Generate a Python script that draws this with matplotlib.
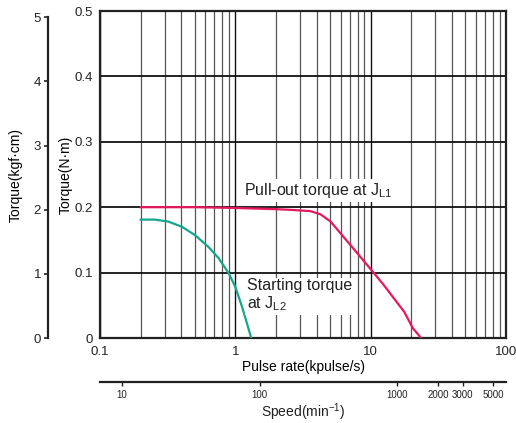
import matplotlib
matplotlib.use("Agg")
import matplotlib.pyplot as plt
from matplotlib.ticker import NullFormatter, LogLocator

plt.rcParams['font.family'] = ['Liberation Sans', 'DejaVu Sans']
plt.rcParams['mathtext.fontset'] = 'custom'
plt.rcParams['mathtext.rm'] = 'Liberation Sans'
plt.rcParams['text.color'] = '#222222'

# pull-out torque curve (kpulse/s, N·m)
pullout_x = [0.2, 0.5, 0.92, 2, 2.55, 3.59, 4.27, 5.06, 5.99, 7.1, 8.4, 10.6, 12.5, 14.8, 17.7, 20.5, 23.6]
pullout_y = [0.2, 0.2, 0.199, 0.197, 0.196, 0.194, 0.189, 0.178, 0.160, 0.142, 0.124, 0.099, 0.081, 0.061, 0.040, 0.015, 0.0]

# starting torque curve
start_x = [0.2, 0.255, 0.32, 0.404, 0.506, 0.635, 0.753, 0.894, 1.0, 1.12, 1.22, 1.31]
start_y = [0.181, 0.181, 0.178, 0.170, 0.157, 0.139, 0.122, 0.099, 0.078, 0.048, 0.022, 0.0]

pulse_ticks = [0.1, 1, 10, 100]
pulse_labels = ['0.1', '1', '10', '100']
speed_ticks = [10, 100, 1000, 2000, 3000, 5000]
speed_labels = ['10', '100', '1000', '2000', '3000', '5000']
nm_ticks = [0, 0.1, 0.2, 0.3, 0.4, 0.5]
kgf_ticks = [0, 1, 2, 3, 4, 5]
NM_TO_KGFCM = 10.197

W, H = 516, 423
fig = plt.figure(figsize=(W / 100, H / 100), dpi=100)

# main chart
ax = fig.add_axes([100 / W, 1 - 338 / H, 406 / W, 327 / H])
ax.set_xscale('log')
ax.set_xlim(0.1, 100)
ax.set_ylim(0, 0.5)
ax.set_xticks(pulse_ticks)
ax.set_xticklabels(pulse_labels)
ax.xaxis.set_minor_locator(LogLocator(base=10, subs=range(2, 10)))
ax.xaxis.set_minor_formatter(NullFormatter())
ax.set_yticks(nm_ticks)
ax.set_yticklabels(['0', '0.1', '0.2', '0.3', '0.4', '0.5'])
ax.tick_params(which='both', length=0, labelsize=9.5, colors='#222222')
ax.tick_params(axis='x', pad=6)
ax.tick_params(axis='y', pad=5)
ax.grid(which='major', axis='x', color='#111111', lw=1.0)
ax.grid(which='minor', axis='x', color='#555555', lw=0.9)
ax.grid(which='major', axis='y', color='#111111', lw=1.3)
for s in ax.spines.values():
    s.set_linewidth(1.6)
    s.set_color('#222222')
ax.set_axisbelow(True)

ax.plot(pullout_x, pullout_y, color='#e6195c', lw=1.6, zorder=3)
ax.plot(start_x, start_y, color='#14a68c', lw=1.6, zorder=3)

box = dict(facecolor='white', edgecolor='none', pad=1.5)
ax.text(1.16, 0.226, r'Pull-out torque at J$_{\mathregular{L1}}$', fontsize=11.5,
        va='center', ha='left', bbox=box, zorder=4)
ax.text(1.22, 0.0915, 'Starting torque\n' + r'at J$_{\mathregular{L2}}$', fontsize=11.5,
        va='top', ha='left', linespacing=1.1, bbox=box, zorder=4)

ax.set_xlabel('Pulse rate(kpulse/s)', fontsize=10, labelpad=1)
ax.set_ylabel('Torque(N·m)', fontsize=10)
ax.yaxis.set_label_coords((73 - 100) / 406, 0.5)

# speed axis
ax2 = fig.add_axes([100 / W, 1 - 382 / H, 406 / W, 0.001])
ax2.set_xscale('log')
ax2.set_xlim(6.9, 6200)
ax2.set_xticks(speed_ticks)
ax2.set_xticklabels(speed_labels)
ax2.xaxis.set_minor_locator(plt.NullLocator())
ax2.set_yticks([])
ax2.patch.set_visible(False)
for k in ['left', 'right', 'top']:
    ax2.spines[k].set_visible(False)
ax2.spines['bottom'].set_linewidth(1.6)
ax2.spines['bottom'].set_color('#222222')
ax2.tick_params(axis='x', length=3, width=1, pad=3, labelsize=7, colors='#222222')
fig.text(303 / W, 1 - 412 / H, 'Speed(min$^{\\mathregular{-1}}$)', fontsize=10,
         ha='center', va='center')

# kgf·cm axis
ax3 = fig.add_axes([48 / W, 1 - 338 / H, 0.001, 327 / H])
ax3.set_ylim(0, 0.5 * NM_TO_KGFCM)
ax3.set_yticks(kgf_ticks)
ax3.set_xticks([])
ax3.patch.set_visible(False)
for k in ['bottom', 'right', 'top']:
    ax3.spines[k].set_visible(False)
ax3.spines['left'].set_bounds(0, 5)
ax3.spines['left'].set_linewidth(1.6)
ax3.spines['left'].set_color('#222222')
ax3.tick_params(axis='y', length=3, width=1.2, pad=2, labelsize=9.5, colors='#222222')
ax3.set_ylabel('Torque(kgf·cm)', fontsize=10)
ax3.yaxis.set_label_coords(-25 / 0.516, 0.5)

fig.savefig('out.png', dpi=100)
